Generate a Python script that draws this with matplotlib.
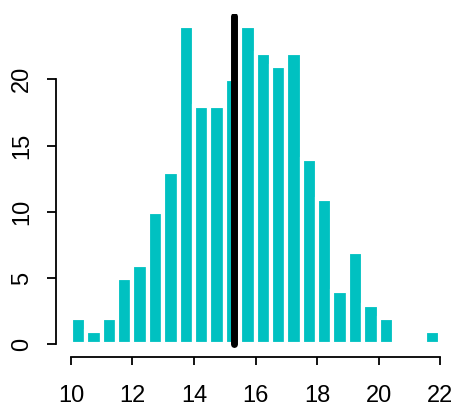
import matplotlib
matplotlib.use("Agg")
import matplotlib.pyplot as plt
import numpy as np

# Data
bin_edges = [10.0, 10.5, 11.0, 11.5, 12.0, 12.5, 13.0, 13.5, 14.0, 14.5, 15.0, 15.5,
             16.0, 16.5, 17.0, 17.5, 18.0, 18.5, 19.0, 19.5, 20.0, 20.5, 21.0, 21.5, 22.0]
counts = [2, 1, 2, 5, 6, 10, 13, 24, 18, 18, 20, 24,
          22, 21, 22, 14, 11, 4, 7, 3, 2, 0, 0, 1]
mean_value = 15.3
x_ticks = [10, 12, 14, 16, 18, 20, 22]
y_ticks = [0, 5, 10, 15, 20]

plt.rcParams['font.family'] = ['Liberation Sans', 'DejaVu Sans']

W, H = 454, 407
fig = plt.figure(figsize=(W / 100, H / 100), dpi=100)
ax = fig.add_axes([56.2 / W, (H - 357) / H, (454.8 - 56.2) / W, (357 - 13.6) / H])

edges = np.array(bin_edges)
ax.bar(edges[:-1], counts, width=np.diff(edges), align='edge',
       color='#00C1C1', edgecolor='white', linewidth=3.0)

ax.plot([mean_value, mean_value], [0, 24.75], color='black', linewidth=5.0,
        solid_capstyle='round')

ax.set_xlim(9.52, 22.48)
ax.set_ylim(-0.96, 24.96)

for s in ['top', 'right']:
    ax.spines[s].set_visible(False)
ax.spines['left'].set_bounds(0, 20)
ax.spines['bottom'].set_bounds(10, 22)
for s in ['left', 'bottom']:
    ax.spines[s].set_linewidth(1.3)

ax.set_xticks(x_ticks)
ax.set_yticks(y_ticks)
ax.set_xticklabels([str(v) for v in x_ticks])
ax.set_yticklabels([str(v) for v in y_ticks], rotation=90, va='center')
ax.tick_params(axis='x', length=5.5, width=1.3, pad=15, labelsize=17)
ax.tick_params(axis='y', length=6.5, width=1.3, pad=10, labelsize=17)

fig.savefig('out.png', dpi=100)
